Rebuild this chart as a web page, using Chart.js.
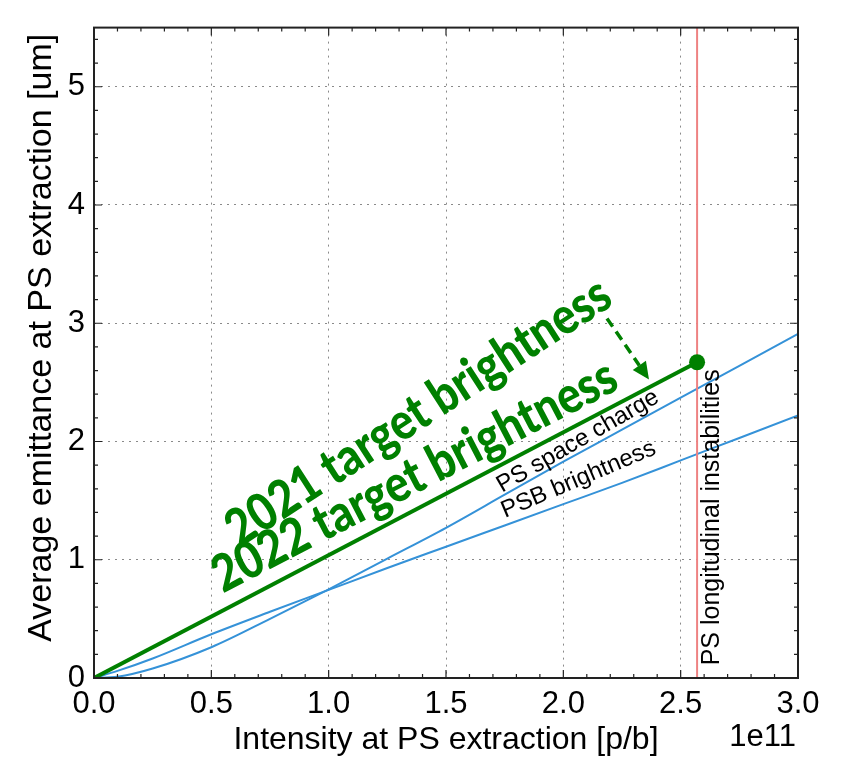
<!DOCTYPE html>
<html>
<head>
<meta charset="utf-8">
<script src="https://cdn.jsdelivr.net/npm/chart.js@4.4.0/dist/chart.umd.min.js"></script>
<style>
html,body{margin:0;padding:0;background:#fff;}
#wrap{width:846px;height:757px;}
</style>
</head>
<body>
<div id="wrap"><canvas id="c" width="846" height="757"></canvas></div>
<script>
// ---- data ----
const intensity      = [0, 0.1, 0.25, 0.5, 0.75, 1.0, 1.25, 1.5, 1.75, 2.0, 2.25, 2.5, 2.75, 3.0]; // x 1e11 p/b
const psSpaceCharge  = [0, 0.01, 0.08, 0.26, 0.50, 0.75, 1.01, 1.27, 1.55, 1.83, 2.10, 2.37, 2.64, 2.91];
const psbBrightness  = [0, 0.06, 0.165, 0.37, 0.56, 0.745, 0.93, 1.11, 1.29, 1.47, 1.65, 1.84, 2.03, 2.22];
const targetIntensity = [0, 2.57];
const targetEmittance = [0, 2.67];
const instabilityLimit = 2.57;
const xTicks = [0, 0.5, 1.0, 1.5, 2.0, 2.5, 3.0];
const yTicks = [0, 1, 2, 3, 4, 5];
const xRange = [0, 3];
const yRange = [0, 5.5];
const xTitle = 'Intensity at PS extraction [p/b]';
const yTitle = 'Average emittance at PS extraction [um]';
const offsetText = '1e11';

const BLUE = '#3592d8', GREEN = '#008000', RED = '#ee8282';
const SANS = "'Liberation Sans', Arial, sans-serif";

const pts = (xs, ys) => xs.map((x, i) => ({x: x, y: ys[i]}));

function rotText(ctx, text, x, y, deg, font, color, align, baseline, sx) {
  ctx.save();
  ctx.translate(x, y);
  ctx.rotate(deg * Math.PI / 180);
  if (sx) ctx.scale(sx, 1);
  ctx.font = font;
  ctx.fillStyle = color;
  ctx.textAlign = align || 'left';
  ctx.textBaseline = baseline || 'alphabetic';
  ctx.fillText(text, 0, 0);
  ctx.restore();
}

const framePlugin = {
  id: 'frame',
  afterDatasetsDraw(chart) {
    const {ctx, chartArea: a, scales: {x, y}} = chart;
    ctx.save();
    ctx.strokeStyle = '#222';
    ctx.lineWidth = 1.2;
    ctx.beginPath();
    for (let i = 0; i <= 30; i++) {
      const v = i / 10;
      const px = x.getPixelForValue(v);
      const len = (i % 5 === 0) ? 8 : 4;
      ctx.moveTo(px, a.bottom); ctx.lineTo(px, a.bottom - len);
      ctx.moveTo(px, a.top); ctx.lineTo(px, a.top + len);
    }
    for (let i = 0; i <= 27; i++) {
      const v = i / 5;
      const py = y.getPixelForValue(v);
      const len = (i % 5 === 0) ? 8 : 4;
      ctx.moveTo(a.left, py); ctx.lineTo(a.left + len, py);
      ctx.moveTo(a.right, py); ctx.lineTo(a.right - len, py);
    }
    ctx.stroke();
    ctx.lineWidth = 2;
    ctx.strokeRect(a.left, a.top, a.right - a.left, a.bottom - a.top);
    ctx.restore();
  },
  afterDraw(chart) {
    const {ctx, chartArea: a, scales: {x, y}} = chart;
    const X = v => x.getPixelForValue(v), Y = v => y.getPixelForValue(v);

    // y axis title (placed slightly above the axis centre, as in the reference)
    rotText(ctx, yTitle, 42, (a.top + a.bottom) / 2 - 15, -90, '34px ' + SANS, '#000', 'center', 'middle');

    // offset text
    rotText(ctx, offsetText, a.right - 2, 737, 0, '31px ' + SANS, '#000', 'right', 'middle');

    // green target annotations (fit to width, condensed like Calibri)
    const squeeze = 0.86;
    const gfam = "Lato, 'Open Sans', sans-serif";
    ctx.save();
    ctx.font = '900 40px ' + gfam;
    const w = ctx.measureText('2021 target brightness').width;
    ctx.restore();
    const gsize = 40 * 448 / (w * squeeze);
    const gfont = '900 ' + gsize.toFixed(1) + 'px ' + gfam;
    rotText(ctx, '2021 target brightness', X(0.62), Y(1.10), -33, gfont, GREEN, 'left', 'alphabetic', squeeze);
    rotText(ctx, '2022 target brightness', X(0.55), Y(0.715), -27.3, gfont, GREEN, 'left', 'alphabetic', squeeze);

    // curve labels
    rotText(ctx, 'PS space charge', X(1.739), Y(1.566), -30, '24px ' + SANS, '#000');
    rotText(ctx, 'PSB brightness', X(1.751), Y(1.352), -23, '24px ' + SANS, '#000');
    rotText(ctx, 'PS longitudinal instabilities', X(2.634), Y(0.107), -90, '25px ' + SANS, '#000', 'left', 'middle');

    // dashed arrow
    const sx = X(2.186), sy = Y(3.041), tx = X(2.365), ty = Y(2.525);
    const ang = Math.atan2(ty - sy, tx - sx);
    const headL = 17, headW = 8;
    const bx = tx - headL * Math.cos(ang), by = ty - headL * Math.sin(ang);
    ctx.save();
    ctx.strokeStyle = GREEN; ctx.fillStyle = GREEN;
    ctx.lineWidth = 3.5;
    ctx.setLineDash([10, 6]);
    ctx.beginPath(); ctx.moveTo(sx, sy); ctx.lineTo(bx, by); ctx.stroke();
    ctx.setLineDash([]);
    ctx.beginPath();
    ctx.moveTo(tx, ty);
    ctx.lineTo(bx + headW * Math.sin(ang), by - headW * Math.cos(ang));
    ctx.lineTo(bx - headW * Math.sin(ang), by + headW * Math.cos(ang));
    ctx.closePath(); ctx.fill();
    ctx.restore();
  }
};

new Chart(document.getElementById('c'), {
  type: 'line',
  data: {
    datasets: [
      { label: 'Target brightness', data: pts(targetIntensity, targetEmittance),
        borderColor: GREEN, backgroundColor: GREEN, borderWidth: 4,
        pointRadius: [0, 8], pointBackgroundColor: GREEN, pointBorderColor: GREEN, pointBorderWidth: 0,
        order: 0 },
      { label: 'PS longitudinal instabilities', data: pts([instabilityLimit, instabilityLimit], yRange),
        borderColor: RED, borderWidth: 2, pointRadius: 0, order: 1 },
      { label: 'PS space charge', data: pts(intensity, psSpaceCharge),
        borderColor: BLUE, borderWidth: 2, pointRadius: 0, cubicInterpolationMode: 'monotone', order: 2 },
      { label: 'PSB brightness', data: pts(intensity, psbBrightness),
        borderColor: BLUE, borderWidth: 2, pointRadius: 0, cubicInterpolationMode: 'monotone', order: 3 }
    ]
  },
  options: {
    responsive: false,
    animation: false,
    devicePixelRatio: 1,
    layout: { padding: { left: 0, right: 48, top: 7, bottom: 0 } },
    plugins: { legend: { display: false }, tooltip: { enabled: false } },
    scales: {
      x: {
        type: 'linear', min: xRange[0], max: xRange[1],
        afterBuildTicks: s => { s.ticks = xTicks.map(v => ({value: v})); },
        afterFit: s => { s.height = 79; },
        grid: { color: '#8a8a8a', lineWidth: 1, drawTicks: false },
        border: { display: false, dash: [2, 5] },
        ticks: { color: '#000', padding: 8, maxRotation: 0, font: { family: SANS, size: 31 },
                 callback: v => Number(v).toFixed(1) },
        title: { display: true, text: xTitle, color: '#000', font: { family: SANS, size: 32, lineHeight: 1 },
                 padding: { top: 0, bottom: 1 } }
      },
      y: {
        type: 'linear', min: yRange[0], max: yRange[1],
        afterBuildTicks: s => { s.ticks = yTicks.map(v => ({value: v})); },
        afterFit: s => { s.width = 94; },
        grid: { color: '#8a8a8a', lineWidth: 1, drawTicks: false },
        border: { display: false, dash: [2, 5] },
        ticks: { color: '#000', padding: 9, font: { family: SANS, size: 31 },
                 callback: v => String(Math.round(v)) },
        title: { display: false, text: yTitle }
      }
    }
  },
  plugins: [framePlugin]
});
</script>
</body>
</html>
